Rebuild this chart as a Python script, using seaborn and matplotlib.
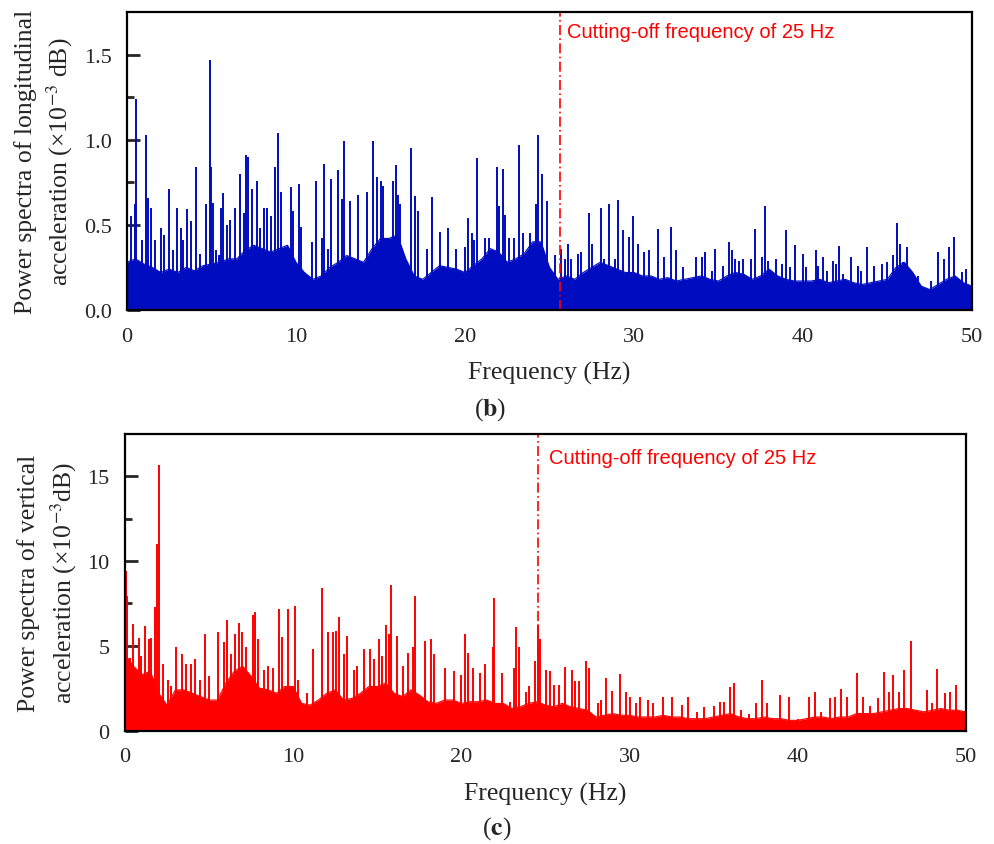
import numpy as np
import pandas as pd
import matplotlib
matplotlib.use("Agg")
import matplotlib.pyplot as plt
import seaborn as sns

# ---------------- data ----------------
band_freq = [i * 0.5 for i in range(101)]

# (b) longitudinal: dense level of the spectrum every 0.5 Hz (x1e-3 dB)
long_band = [0.28, 0.30, 0.27, 0.25, 0.22, 0.24, 0.22, 0.25, 0.23, 0.26, 0.27,
             0.28, 0.30, 0.30, 0.35, 0.38, 0.36, 0.34, 0.36, 0.38, 0.28,
             0.22, 0.18, 0.20, 0.25, 0.28, 0.32, 0.30, 0.28, 0.36, 0.42,
             0.42, 0.44, 0.30, 0.20, 0.18, 0.22, 0.26, 0.25, 0.24, 0.22,
             0.26, 0.30, 0.36, 0.34, 0.28, 0.30, 0.33, 0.40, 0.40, 0.25,
             0.18, 0.20, 0.18, 0.22, 0.25, 0.28, 0.26, 0.24, 0.22, 0.22,
             0.20, 0.20, 0.18, 0.19, 0.17, 0.18, 0.19, 0.20, 0.18, 0.17,
             0.20, 0.22, 0.21, 0.18, 0.20, 0.24, 0.20, 0.18, 0.17, 0.17,
             0.17, 0.18, 0.16, 0.17, 0.18, 0.16, 0.15, 0.16, 0.17, 0.18,
             0.25, 0.28, 0.22, 0.14, 0.12, 0.15, 0.18, 0.20, 0.16, 0.14]

# (b) longitudinal: individual spectral peaks
long_peak_freq = [0.24, 0.45, 0.51, 0.91, 1.12, 1.22, 1.40, 1.66, 1.99, 2.19, 2.50, 2.74,
                  2.98, 3.18, 3.33, 3.53, 3.79, 4.08, 4.32, 4.67, 4.91, 4.97, 5.07, 5.25,
                  5.42, 5.56, 5.70, 5.94, 6.09, 6.39, 6.69, 6.92, 7.02, 7.18, 7.42, 7.67,
                  7.87, 8.11, 8.26, 8.52, 8.76, 8.92, 9.11, 9.69, 9.84, 10.18, 10.30, 10.93,
                  11.17, 11.52, 11.66, 11.87, 12.05, 12.47, 12.70, 12.84, 13.18, 13.69, 14.20,
                  14.54, 14.77, 15.03, 15.18, 15.76, 15.94, 16.06, 16.18, 16.80, 17.04, 17.20,
                  17.77, 18.07, 18.54, 19.02, 19.47, 20.00, 20.20, 20.40, 20.55, 20.69, 21.18,
                  21.42, 21.89, 22.01, 22.23, 22.35, 22.60, 22.90, 23.21, 23.45, 23.85, 24.20,
                  24.34, 24.54, 24.83, 25.30, 25.70, 25.90, 26.10, 26.26, 26.70, 26.86, 27.36,
                  27.50, 28.03, 28.20, 28.50, 28.90, 29.05, 29.37, 29.68, 29.96, 30.26, 30.60,
                  30.90, 31.40, 31.78, 32.20, 32.50, 32.90, 33.70, 34.00, 34.20, 34.60, 34.80,
                  35.30, 35.62, 35.78, 35.98, 36.20, 36.43, 36.90, 37.16, 37.60, 37.75, 37.95,
                  38.40, 38.74, 38.98, 39.25, 39.53, 39.98, 40.20, 40.77, 40.90, 41.16, 41.40,
                  41.78, 41.95, 42.13, 42.40, 42.84, 43.24, 43.44, 43.80, 44.20, 44.70, 44.96,
                  45.35, 45.58, 45.74, 45.90, 46.14, 46.40, 46.80, 47.20, 47.56, 47.97, 48.34,
                  48.64, 48.93, 49.40, 49.63, 49.83]
long_peak_val = [0.55, 0.62, 1.24, 0.41, 1.03, 0.66, 0.60, 0.41, 0.48, 0.44, 0.71, 0.35,
                 0.60, 0.48, 0.41, 0.59, 0.52, 0.84, 0.33, 0.62, 1.47, 0.84, 0.63, 0.35,
                 0.32, 0.60, 0.685, 0.50, 0.53, 0.60, 0.80, 0.57, 0.91, 0.90, 0.71, 0.76,
                 0.48, 0.60, 0.60, 0.55, 0.84, 1.04, 0.69, 0.72, 0.58, 0.74, 0.49, 0.40,
                 0.76, 0.42, 0.855, 0.36, 0.77, 0.82, 0.65, 0.99, 0.64, 0.675, 0.69,
                 0.995, 0.78, 0.755, 0.73, 0.755, 0.85, 0.675, 0.62, 0.95, 0.67, 0.58,
                 0.36, 0.665, 0.46, 0.48, 0.36, 0.37, 0.54, 0.45, 0.41, 0.89, 0.42,
                 0.42, 0.84, 0.61, 0.83, 0.56, 0.42, 0.42, 0.97, 0.45, 0.45, 0.62,
                 1.025, 0.80, 0.64, 0.32, 0.36, 0.30, 0.39, 0.30, 0.33, 0.34, 0.57,
                 0.39, 0.60, 0.30, 0.62, 0.30, 0.645, 0.47, 0.43, 0.55, 0.39, 0.34,
                 0.35, 0.475, 0.31, 0.49, 0.35, 0.25, 0.31, 0.31, 0.34, 0.23, 0.36,
                 0.26, 0.40, 0.35, 0.30, 0.29, 0.30, 0.30, 0.475, 0.31, 0.61, 0.29,
                 0.30, 0.27, 0.47, 0.25, 0.38, 0.33, 0.25, 0.35, 0.26, 0.31, 0.23,
                 0.29, 0.27, 0.375, 0.21, 0.31, 0.26, 0.23, 0.37, 0.26, 0.27, 0.28,
                 0.32, 0.51, 0.39, 0.28, 0.37, 0.21, 0.20, 0.13, 0.17, 0.34, 0.30,
                 0.37, 0.43, 0.22, 0.24, 0.13]

# (c) vertical: dense level of the spectrum every 0.5 Hz (x1e-3 dB)
vert_band = [4.5, 3.8, 3.3, 3.5, 2.2, 1.5, 2.4, 2.4, 2.2, 2.0, 1.8,
             1.8, 2.8, 3.5, 3.8, 3.2, 2.5, 2.4, 2.2, 2.6, 2.6,
             1.6, 1.5, 1.8, 2.2, 2.4, 1.8, 1.9, 2.2, 2.6, 2.6,
             2.8, 2.2, 2.0, 2.4, 2.1, 1.7, 1.6, 1.8, 1.8, 1.6,
             1.7, 1.7, 1.8, 1.6, 1.6, 1.3, 1.4, 1.6, 1.7, 1.5,
             1.4, 1.6, 1.4, 1.3, 1.2, 0.8, 0.9, 1.0, 0.9, 0.9,
             0.8, 0.8, 0.8, 0.9, 0.8, 0.8, 0.7, 0.7, 0.7, 0.8,
             0.9, 1.0, 0.8, 0.7, 0.7, 0.8, 0.7, 0.7, 0.6, 0.6,
             0.7, 0.8, 0.8, 0.7, 0.8, 0.8, 1.0, 1.0, 1.0, 1.1,
             1.2, 1.3, 1.3, 1.2, 1.1, 1.2, 1.3, 1.2, 1.2, 1.1]

# (c) vertical: individual spectral peaks
vert_peak_freq = [0.08, 0.14, 0.30, 0.48, 0.83, 0.95, 1.17, 1.41, 1.57, 1.79, 1.93, 2.00,
                  2.26, 2.56, 2.74, 3.06, 3.42, 3.65, 3.95, 4.15, 4.45, 4.73, 5.00, 5.53,
                  5.90, 6.07, 6.30, 6.53, 6.77, 6.98, 7.20, 7.62, 7.72, 7.90, 8.25, 8.50,
                  8.80, 9.15, 9.35, 9.70, 10.10, 10.30, 10.80, 11.19, 11.69, 12.08, 12.38,
                  12.54, 12.74, 13.04, 13.21, 13.60, 13.80, 14.20, 14.57, 14.80, 15.10, 15.30,
                  15.50, 15.70, 15.83, 16.19, 16.55, 16.80, 17.10, 17.26, 17.84, 18.19, 18.40,
                  19.00, 19.55, 20.00, 20.24, 20.40, 20.70, 21.10, 21.40, 21.87, 21.96, 22.40,
                  22.90, 23.10, 23.27, 23.45, 23.85, 24.00, 24.35, 24.54, 24.65, 25.05, 25.28,
                  25.50, 25.80, 26.17, 26.55, 26.77, 27.00, 27.40, 27.60, 28.10, 28.33, 28.60,
                  28.95, 29.46, 29.80, 30.04, 30.40, 30.60, 31.10, 31.40, 31.97, 32.50, 33.10,
                  33.50, 34.00, 34.40, 35.00, 35.40, 35.60, 36.00, 36.20, 36.60, 37.10, 37.50,
                  37.90, 38.20, 38.97, 39.50, 40.00, 40.66, 41.00, 41.40, 41.90, 42.20, 42.60,
                  42.90, 43.53, 43.90, 44.30, 44.80, 45.12, 45.40, 45.65, 46.00, 46.30, 46.73,
                  47.10, 47.69, 47.98, 48.30, 48.77, 49.07, 49.40, 49.80]
vert_peak_val = [9.43, 7.96, 4.3, 6.3, 5.45, 4.4, 6.15, 5.4, 5.45, 7.3, 11.0, 15.7,
                 3.9, 3.0, 2.6, 4.9, 4.5, 3.9, 3.9, 4.2, 3.0, 5.7, 3.2, 5.8,
                 5.2, 6.55, 4.5, 5.7, 6.35, 5.8, 4.9, 6.8, 6.98, 5.4, 3.6, 3.8,
                 3.7, 7.2, 5.5, 7.2, 7.37, 3.0, 2.2, 4.8, 8.4, 5.8, 5.8,
                 5.85, 6.69, 4.5, 5.6, 3.6, 3.8, 4.8, 4.8, 4.2, 5.4, 4.4,
                 6.23, 5.7, 8.6, 5.6, 3.8, 4.6, 4.9, 7.92, 5.3, 5.4, 4.5,
                 3.7, 3.5, 3.3, 5.7, 4.6, 3.7, 3.4, 3.9, 4.9, 7.82, 3.4,
                 1.7, 3.7, 6.13, 4.9, 2.3, 2.6, 4.1, 6.23, 5.4, 3.6, 3.54,
                 2.7, 2.7, 3.74, 3.6, 2.9, 2.9, 4.11, 3.67, 1.6, 1.8, 3.1,
                 2.35, 3.34, 2.25, 2.0, 1.6, 2.0, 1.8, 1.6, 2.0, 2.0, 1.5,
                 2.0, 1.1, 1.4, 1.45, 1.7, 1.7, 2.55, 2.8, 1.2, 1.0, 1.6,
                 3.0, 1.65, 2.07, 2.0, 0.7, 2.0, 2.26, 1.1, 1.9, 2.0, 2.46,
                 2.0, 3.4, 2.0, 1.45, 1.9, 3.48, 2.25, 3.28, 2.3, 3.58, 5.31,
                 1.1, 2.4, 1.65, 3.64, 2.2, 2.3, 2.7, 1.1]

cutoff_long = 25.6
cutoff_vert = 24.55
cutoff_text = "Cutting-off frequency of 25 Hz"
x_ticks = [0, 10, 20, 30, 40, 50]

# ---------------- style ----------------
sns.set_theme(style="ticks")
plt.rcParams["font.family"] = ["Liberation Serif", "DejaVu Serif"]
plt.rcParams["mathtext.fontset"] = "stix"

BLUE = "#000cbf"
RED = "#ff0000"

fig = plt.figure(figsize=(9.95, 8.45), dpi=100)
ax1 = fig.add_axes([0.1276, 0.632, 0.8492, 0.3527])
ax2 = fig.add_axes([0.1256, 0.1343, 0.8452, 0.3509])


def draw(ax, band, pf, pv, color, ymax, yticks, yminor, cutoff, ylabel, tx, ty):
    df_band = pd.DataFrame({"f": band_freq, "v": band})
    ax.fill_between(df_band["f"], 0, df_band["v"], color=color, lw=0, zorder=2)
    sns.lineplot(data=df_band, x="f", y="v", ax=ax, color=color, lw=0.8, zorder=2)
    df_pk = pd.DataFrame({"f": pf, "v": pv})
    ax.vlines(df_pk["f"], 0, df_pk["v"], color=color, lw=1.4, zorder=3)
    ax.axvline(cutoff, color=RED, lw=1.2, ls=(0, (6, 2, 1, 2)), zorder=4)
    ax.text(tx, ty, cutoff_text, transform=ax.transData, color=RED,
            fontsize=14.5, family=["Liberation Sans", "DejaVu Sans"], va="top", ha="left")
    ax.set_xlim(0, 50)
    ax.set_ylim(0, ymax)
    ax.set_xticks(x_ticks)
    ax.set_xticklabels([str(t) for t in x_ticks])
    ax.set_yticks(yticks)
    ax.set_yticks(yminor, minor=True)
    ax.tick_params(axis="y", which="major", direction="in", length=9, width=2,
                   labelsize=16, pad=11, left=True, right=False)
    ax.tick_params(axis="y", which="minor", direction="in", length=5, width=2,
                   left=True, right=False)
    ax.tick_params(axis="x", which="both", length=0, labelsize=16, pad=12)
    for s in ax.spines.values():
        s.set_visible(True)
        s.set_linewidth(1.6)
        s.set_color("black")
        s.set_zorder(5)
    ax.set_xlabel("Frequency (Hz)", fontsize=18.5, labelpad=11)
    ax.set_ylabel(ylabel, fontsize=18.5, labelpad=6, linespacing=1.36)


draw(ax1, long_band, long_peak_freq, long_peak_val, BLUE, 1.75,
     [0.0, 0.5, 1.0, 1.5], [0.25, 0.75, 1.25],
     cutoff_long,
     "Power spectra of longitudinal\nacceleration (\u00d710$^{-3}$ dB)",
     26.05, 1.69)
ax1.set_yticklabels(["0.0", "0.5", "1.0", "1.5"])

draw(ax2, vert_band, vert_peak_freq, vert_peak_val, RED, 17.5,
     [0, 5, 10, 15], [2.5, 7.5, 12.5],
     cutoff_vert,
     "Power spectra of vertical\nacceleration (\u00d710$^{-3}$dB)",
     25.2, 16.7)
ax2.set_yticklabels(["0", "5", "10", "15"])

fig.text(490 / 995, 1 - 410 / 845, r"($\mathbf{b}$)", ha="center", va="center", fontsize=18.5)
fig.text(497 / 995, 1 - 829 / 845, r"($\mathbf{c}$)", ha="center", va="center", fontsize=18.5)

fig.savefig("out.png", dpi=100, facecolor="white")
